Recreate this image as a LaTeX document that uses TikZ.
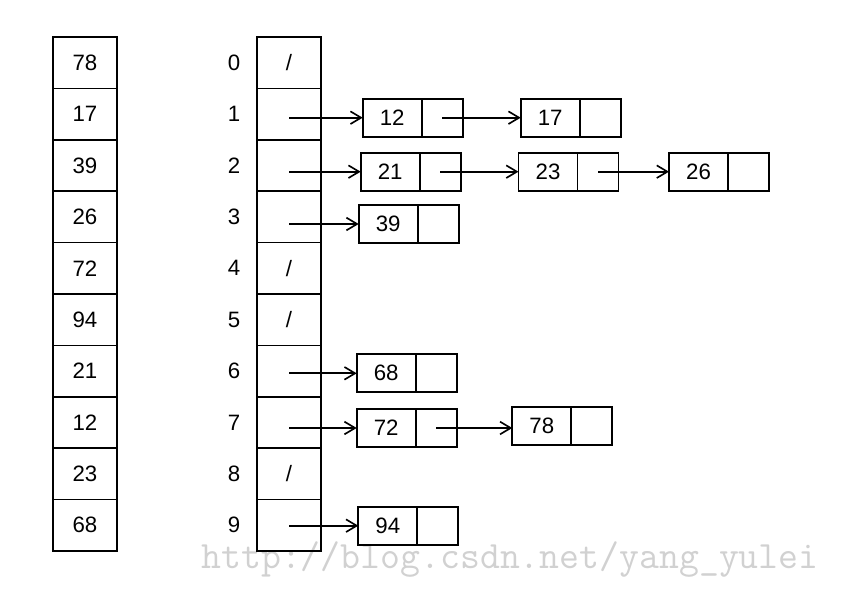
\documentclass[tikz,border=0pt]{standalone}
\usepackage{fontspec}
\setmainfont{Liberation Sans}
\usetikzlibrary{arrows.meta}
\tikzset{
  cell/.style={draw,line width=1.5pt,minimum width=19.3mm,minimum height=15.42mm,inner sep=0pt},
  dat/.style={draw,line width=1.5pt,minimum width=17.7mm,minimum height=11.4mm,inner sep=0pt,outer sep=0pt,anchor=north west},
  ptr/.style={draw,line width=1.5pt,minimum width=12.3mm,minimum height=11.4mm,inner sep=0pt,outer sep=0pt,anchor=west},
  link/.style={line width=1.4pt,-{Straight Barb[length=3.2mm,width=3.8mm]}},
  mark text/.style={text=black!18,inner sep=0pt,anchor=base,font=\fontsize{33}{36}\selectfont\ttfamily}
}
\begin{document}
\begin{tikzpicture}[x=0.3mm,y=-0.3mm,font=\fontsize{19}{22}\selectfont]
  \def\lbox#1#2#3{\node[dat](d#1)at(#2,#3){#1};\node[ptr](p#1)at(d#1.east){};}
  \useasboundingbox(0,0)rectangle(846,596);
  \node[mark text](wm)at(510,568){http://blog.csdn.net/yang\_yulei};
  % keys
  \foreach \v[count=\i from 0] in {78,17,39,26,72,94,21,12,23,68}
    \node[cell](a\i)at(85,{37+51.4*(\i+0.5)}){\v};
  % table
  \foreach \i in {0,...,9}{
    \node[cell](h\i)at(289,{37+51.4*(\i+0.5)}){};
    \node(n\i)at(234,{37+51.4*(\i+0.5)}){\i};
  }
  \foreach \i in {0,4,5,8}\node(s\i)at(h\i){/};
  % chains
  \lbox{12}{362.7}{98.7}
  \lbox{17}{520.7}{98.7}
  \lbox{21}{360.7}{152.7}
  \lbox{23}{518.5}{152.7}
  \lbox{26}{669}{152.7}
  \lbox{39}{358.7}{205}
  \lbox{68}{356.7}{354.3}
  \lbox{72}{356.7}{409}
  \lbox{78}{512.3}{406.7}
  \lbox{94}{358.3}{506.7}
  \foreach \i/\j in {1/12,2/21,3/39,6/68,7/72,9/94}
    \draw[link](h\i.center|-d\j.west)--(d\j.west);
  \foreach \j/\k in {12/17,21/23,23/26,72/78}
    \draw[link](p\j.center)--(p\j.center-|d\k.west);
\end{tikzpicture}
\end{document}
